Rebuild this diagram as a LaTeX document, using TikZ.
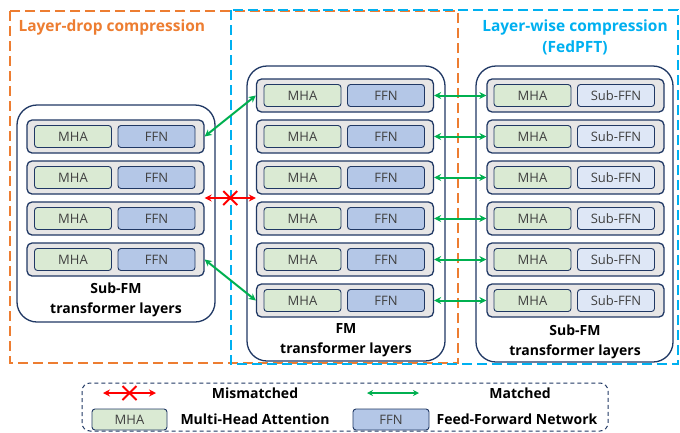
\documentclass[tikz,border=0pt]{standalone}
\usepackage{fontspec}
\setmainfont{Open Sans}
\usetikzlibrary{arrows.meta,calc}
\definecolor{navy}{HTML}{203864}
\definecolor{dropor}{HTML}{ED7D31}
\definecolor{wiseblue}{HTML}{00B0F0}
\definecolor{layergray}{HTML}{E7E6E6}
\definecolor{mhagreen}{HTML}{DAEAD3}
\definecolor{ffnblue}{HTML}{B4C7E7}
\definecolor{subffnblue}{HTML}{DEE7F6}
\definecolor{okgreen}{HTML}{00B050}
\definecolor{badred}{HTML}{FF0000}
\definecolor{boxtext}{HTML}{404040}

\begin{document}
\begin{tikzpicture}[x=1pt,y=-1pt]
\tikzstyle{layer}=[draw=navy, line width=1.3pt, fill=layergray, rounded corners=5pt, minimum width=177pt, minimum height=33pt, inner sep=0pt]
\tikzstyle{part}=[draw=navy, line width=0.9pt, rounded corners=3pt, minimum width=77pt, minimum height=22pt, inner sep=0pt, text=boxtext, font=\fontsize{13}{14}\selectfont]
\tikzstyle{mha}=[part, fill=mhagreen]
\tikzstyle{ffn}=[part, fill=ffnblue]
\tikzstyle{subffn}=[part, fill=subffnblue]
\tikzstyle{stack}=[draw=navy, line width=1.3pt, rounded corners=20pt]
\tikzstyle{caption}=[align=center, font=\bfseries\fontsize{14}{19.5}\selectfont, text=black]
\tikzstyle{legendtext}=[font=\bfseries\fontsize{14}{15}\selectfont]
\tikzstyle{match}=[okgreen, line width=2pt, {Stealth[length=7pt,width=7pt]}-{Stealth[length=7pt,width=7pt]}]
\tikzstyle{mismatch}=[badred, line width=2pt, {Stealth[length=7pt,width=7pt]}-{Stealth[length=7pt,width=7pt]}]
\useasboundingbox (0,0) rectangle (680,432);

% dashed regions
\draw[dropor, line width=2.2pt, dash pattern=on 10pt off 5pt] (10,11) rectangle (458,363);
\draw[wiseblue, line width=2.2pt, dash pattern=on 10pt off 5pt] (231,10) rectangle (678,364);
\node[anchor=west, text=dropor, font=\bfseries\fontsize{15.5}{16}\selectfont] (droptitle) at (15,27) {Layer-drop compression};
\node[align=center, text=wiseblue, font=\bfseries\fontsize{15.5}{21}\selectfont] (wisetitle) at (575,37) {Layer-wise compression\\(FedPFT)};

% outer stacks
\draw[stack] (17,105) rectangle (215,322);
\draw[stack] (247,66) rectangle (445,361);
\draw[stack] (476,66) rectangle (673,362);

% left sub-FM
\foreach \i in {1,...,4} {
  \pgfmathsetmacro\y{136.5+41*(\i-1)}
  \node[layer] (l\i) at (115.5,\y) {};
  \node[mha] (lmha\i) at (73,\y) {MHA};
  \node[ffn] (lffn\i) at (156.5,\y) {FFN};
}
\node[caption] (lcap) at (116,300) {Sub-FM\\transformer layers};

% middle FM
\foreach \i in {1,...,6} {
  \pgfmathsetmacro\y{95.5+41*(\i-1)}
  \node[layer] (m\i) at (345,\y) {};
  \node[mha] (mmha\i) at (302.5,\y) {MHA};
  \node[ffn] (mffn\i) at (386,\y) {FFN};
}
\node[caption] (mcap) at (346,340) {FM\\transformer layers};

% right sub-FM
\foreach \i in {1,...,6} {
  \pgfmathsetmacro\y{95.5+41*(\i-1)}
  \node[layer] (r\i) at (575.5,\y) {};
  \node[mha] (rmha\i) at (532.5,\y) {MHA};
  \node[subffn] (rffn\i) at (616,\y) {Sub-FFN};
}
\node[caption] (rcap) at (575,342) {Sub-FM\\transformer layers};

% connectors
\draw[match] (l1.east) -- (m1.west);
\draw[match] (l4.east) -- (m6.west);
\foreach \i in {1,...,6}
  \draw[match] (m\i.east) -- (r\i.west);
\coordinate (mis1) at ($(l2.south east)!0.5!(l3.north east)$);
\coordinate (mis2) at ($(m3.south west)!0.5!(m4.north west)$);
\draw[mismatch] (mis1) -- (mis2);
\coordinate (misx) at ($(mis1)!0.5!(mis2)$);
\draw[badred, line width=2pt] ($(misx)+(-7,-7)$) -- ($(misx)+(7,7)$)
  ($(misx)+(-7,7)$) -- ($(misx)+(7,-7)$);

% legend
\draw[navy, line width=1pt, dash pattern=on 4pt off 3pt, rounded corners=8pt] (82,383) rectangle (608,431);
\coordinate (lga) at (103,393);
\coordinate (lgb) at (156,393);
\draw[mismatch] (lga) -- (lgb);
\coordinate (lgx) at ($(lga)!0.5!(lgb)$);
\draw[badred, line width=2pt] ($(lgx)+(-7,-7)$) -- ($(lgx)+(7,7)$)
  ($(lgx)+(-7,7)$) -- ($(lgx)+(7,-7)$);
\node[legendtext] (mistext) at (255,393) {Mismatched};
\coordinate (lgc) at (367,393);
\coordinate (lgd) at (419,393);
\draw[match, {Stealth[length=6pt,width=6pt]}-{Stealth[length=6pt,width=6pt]}, line width=1.5pt] (lgc) -- (lgd);
\node[legendtext] (mattext) at (520,393) {Matched};
\node[mha, minimum width=75pt, minimum height=21pt] (lgmha) at (129.5,419.5) {MHA};
\node[legendtext] (mhatext) at (255,419) {Multi-Head Attention};
\node[ffn, minimum width=76pt, minimum height=21pt] (lgffn) at (391,419.5) {FFN};
\node[legendtext] (ffntext) at (517,419) {Feed-Forward Network};
\end{tikzpicture}
\end{document}
